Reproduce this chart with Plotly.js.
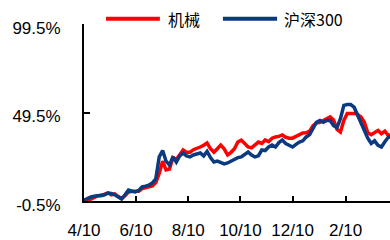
<!DOCTYPE html>
<html><head><meta charset="utf-8">
<script src="https://cdn.plot.ly/plotly-3.0.1.min.js"></script>
<style>html,body{margin:0;padding:0;background:#fff}#c{width:390px;height:240px}</style>
</head><body><div id="c"></div>
<script>
const dates = ['2020-04-10','2020-04-14','2020-04-18','2020-04-22','2020-04-26','2020-04-30','2020-05-04','2020-05-08','2020-05-12','2020-05-16',
'2020-05-20','2020-05-24','2020-05-28','2020-06-01','2020-06-05','2020-06-09','2020-06-13','2020-06-17','2020-06-21','2020-06-25',
'2020-06-29','2020-07-03','2020-07-07','2020-07-11','2020-07-15','2020-07-19','2020-07-23','2020-07-27','2020-07-31','2020-08-04',
'2020-08-08','2020-08-12','2020-08-16','2020-08-20','2020-08-24','2020-08-28','2020-09-01','2020-09-05','2020-09-09','2020-09-13',
'2020-09-17','2020-09-21','2020-09-25','2020-09-29','2020-10-03','2020-10-07','2020-10-11','2020-10-15','2020-10-19','2020-10-23',
'2020-10-27','2020-10-31','2020-11-04','2020-11-08','2020-11-12','2020-11-16','2020-11-20','2020-11-24','2020-11-28','2020-12-02',
'2020-12-06','2020-12-10','2020-12-14','2020-12-18','2020-12-22','2020-12-26','2020-12-30','2021-01-03','2021-01-07','2021-01-11',
'2021-01-15','2021-01-19','2021-01-23','2021-01-27','2021-01-31','2021-02-04','2021-02-08','2021-02-12','2021-02-16','2021-02-20',
'2021-02-24','2021-02-28','2021-03-04','2021-03-08','2021-03-12','2021-03-16','2021-03-20','2021-03-24','2021-03-28','2021-04-01','2021-04-05'];

const machinery = [0,-0.3,0.5,1.5,2.5,2.5,3.5,4,3,3.5,
2,1,2.5,4.5,5,5,5,6.5,7,7.5,
8,10,15,22,17,17.5,24,23,26,28.3,
27,27,28.5,29,30,31,32.3,29,27,29,
31.1,29,25.5,27,29,32.8,33.9,32,30,29.5,
31,32.8,32,34,33,35,35.7,36,36.8,35.5,
35,35,36,37,37.9,38,39,42,43.6,44,
45,46,47,45.3,40,38.5,45,49,49,49,
48.5,47,44,38,37,38,39.4,37.5,39,36.5,37];

const hs300 = [0,1,1.8,2.2,2.5,2.3,3,4,3.8,3,
1.5,0.6,3,5.7,5,4.6,5.5,7.5,7.9,8.5,
9.7,12,24.4,28,22,19.8,24.4,21.5,25,26.6,
25,24.4,25.5,26,26.6,25,27.5,24,21.5,22,
21.5,20.5,21,22,22.5,24,24.4,26,27.2,25.5,
24.4,25,28.3,28,30,31.1,30,32.5,33.9,32,
31,30,31.5,32.8,33.5,35.7,37,41,44,45,
44,45,45,42,41,46,53.5,54,54,52.5,
48,44,39,35,32,33.5,31,30,33,35.5,36];

const seriesNames = ['机械','沪深300'];
const seriesColors = ['#FF0000','#0B3A80'];
const tickDates = ['2020-04-10','2020-06-10','2020-08-10','2020-10-10','2020-12-10','2021-02-10'];
const tickLabels = ['4/10','6/10','8/10','10/10','12/10','2/10'];
const yTickVals = [-0.5,49.5,99.5];
const yTickLabels = ['-0.5%','49.5%','99.5%'];

const font = {family:'Liberation Sans, Arial, "Noto Sans CJK SC", sans-serif', size:17, color:'#000'};
const traces = [machinery, hs300].map((v,i)=>({
  x: dates, y: v, type:'scatter', mode:'lines', name: seriesNames[i],
  line:{color:seriesColors[i], width:3.5}, showlegend:false
}));

const legX = [[0.072,0.248,0.268],[0.454,0.631,0.647]];
const shapes = legX.map((p,i)=>({type:'line', xref:'paper', yref:'paper', x0:p[0], x1:p[1], y0:1.03, y1:1.03,
  line:{color:seriesColors[i], width:4}}));
const annotations = legX.map((p,i)=>({xref:'paper', yref:'paper', x:p[2], y:1.03, xanchor:'left', yanchor:'middle',
  text:seriesNames[i], showarrow:false, font:{family:'"Noto Sans CJK SC", Liberation Sans, sans-serif', size:16, color:'#000'}}));

const layout = {
  width:390, height:240, margin:{l:84, r:0, t:24, b:39},
  paper_bgcolor:'#fff', plot_bgcolor:'#fff', font: font,
  xaxis:{type:'date', range:['2020-04-10','2021-04-03'], tickvals:tickDates, ticktext:tickLabels,
    ticks:'inside', ticklen:5, tickwidth:2, tickcolor:'#000', showline:true, linecolor:'#000', linewidth:2,
    showgrid:false, zeroline:false, ticklabelstandoff:13, tickfont:font},
  yaxis:{range:[-0.5,99.5], tickvals:yTickVals, ticktext:yTickLabels,
    ticks:'inside', ticklen:6, tickwidth:2, tickcolor:'#000', showline:true, linecolor:'#000', linewidth:2,
    showgrid:false, zeroline:false, ticklabelstandoff:18, ticklabelshift:4, tickfont:font},
  shapes: shapes, annotations: annotations, showlegend:false
};
Plotly.newPlot('c', traces, layout, {staticPlot:true, displayModeBar:false});
</script></body></html>
